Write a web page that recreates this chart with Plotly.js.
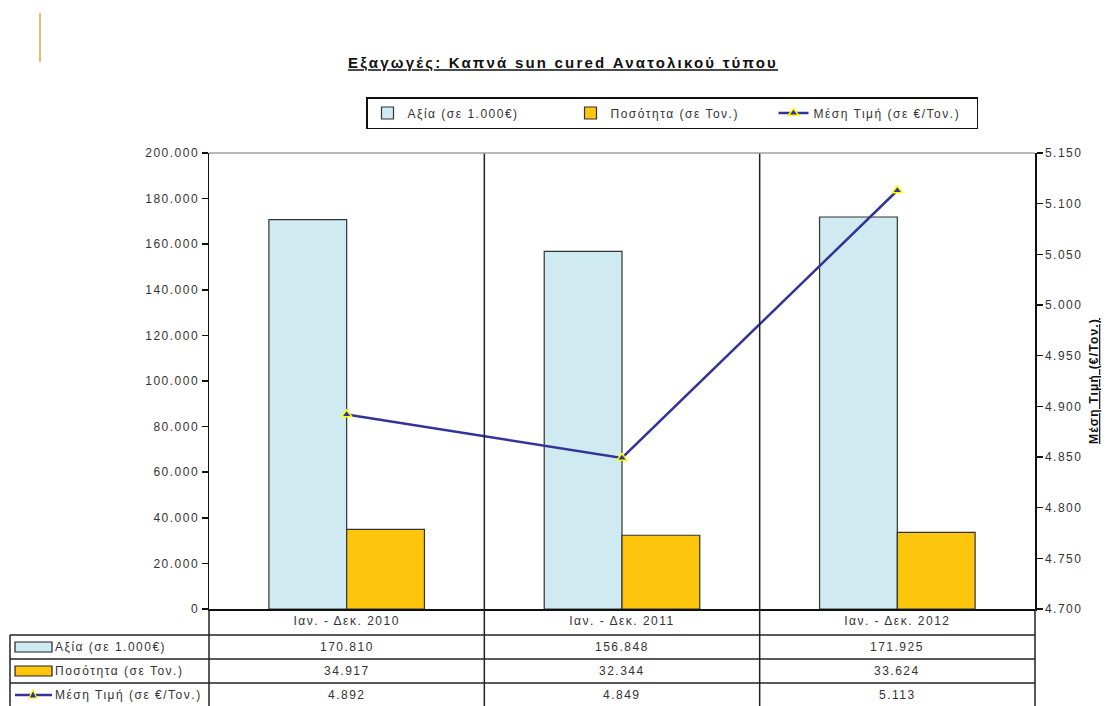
<!DOCTYPE html>
<html>
<head>
<meta charset="utf-8">
<script src="https://cdn.plot.ly/plotly-3.0.1.min.js"></script>
<style>
html,body{margin:0;padding:0;background:#fff;}
#chart{width:1110px;height:706px;}
text{letter-spacing:1.5px;}
#chart .gtitle{letter-spacing:2.2px;}
#chart .y2title{letter-spacing:1.2px;}
</style>
</head>
<body>
<div id="chart"></div>
<script>
// ---- data ----
const categories = ['Ιαν. - Δεκ. 2010', 'Ιαν. - Δεκ. 2011', 'Ιαν. - Δεκ. 2012'];
const valueThousandEur = [170810, 156848, 171925];
const quantityTonnes = [34917, 32344, 33624];
const avgPriceEurPerTonne = [4892, 4849, 5113];
const seriesNames = ['Αξία (σε 1.000€)', 'Ποσότητα (σε Τον.)', 'Μέση Τιμή (σε €/Τον.)'];
const chartTitle = 'Εξαγωγές: Καπνά sun cured Ανατολικού τύπου';
const rightAxisTitle = 'Μέση Τιμή (€/Τον.)';

// ---- layout helpers ----
const W = 1110, H = 706;
const M = {l: 209, r: 75, t: 153, b: 97};
const PW = W - M.l - M.r, PH = H - M.t - M.b;
const px = v => (v - M.l) / PW;
const py = v => (H - M.b - v) / PH;
const fmt = n => String(n).replace(/\B(?=(\d{3})+(?!\d))/g, '.');

const cBlue = '#cfeaf0', cOrange = '#fdc60c', cLine = '#33339a', cYellow = '#ffff00';
const txt = '#333333';
const font = 'Liberation Sans, Arial, sans-serif';

const traces = [
  {type: 'bar', name: seriesNames[0], x: categories, y: valueThousandEur,
   marker: {color: cBlue, line: {color: '#333', width: 1.2}}, hoverinfo: 'skip'},
  {type: 'bar', name: seriesNames[1], x: categories, y: quantityTonnes,
   marker: {color: cOrange, line: {color: '#333', width: 1.2}}, hoverinfo: 'skip'},
  {type: 'scatter', mode: 'lines+markers', name: seriesNames[2], x: categories, y: avgPriceEurPerTonne,
   yaxis: 'y2', line: {color: cLine, width: 2.5},
   marker: {symbol: 'triangle-up', size: 9, color: cLine, line: {color: cYellow, width: 1.5}}, hoverinfo: 'skip'}
];

// ---- table ----
const rowCenters = [647, 671, 695];
const rowSeries = [valueThousandEur, quantityTonnes, avgPriceEurPerTonne];
const annotations = [];
const shapes = [];

rowSeries.forEach((arr, r) => {
  arr.forEach((v, i) => {
    annotations.push({xref: 'x', yref: 'paper', x: i, y: py(rowCenters[r]), text: fmt(v),
      showarrow: false, xanchor: 'center', yanchor: 'middle', font: {family: font, size: 12, color: txt}});
  });
  annotations.push({xref: 'paper', yref: 'paper', x: px(53), y: py(rowCenters[r]), text: seriesNames[r],
    showarrow: false, xanchor: 'left', yanchor: 'middle', font: {family: font, size: 12, color: txt}});
});

// legend keys inside table
shapes.push({type: 'rect', xref: 'paper', yref: 'paper', x0: px(15), x1: px(52), y0: py(642), y1: py(652),
  fillcolor: cBlue, line: {color: '#222', width: 1.2}});
shapes.push({type: 'rect', xref: 'paper', yref: 'paper', x0: px(15), x1: px(52), y0: py(666), y1: py(676),
  fillcolor: cOrange, line: {color: '#222', width: 1.2}});
shapes.push({type: 'line', xref: 'paper', yref: 'paper', x0: px(15), x1: px(52), y0: py(695), y1: py(695),
  line: {color: cLine, width: 2.5}});
shapes.push({type: 'path', xref: 'paper', yref: 'paper',
  path: `M ${px(29)} ${py(698)} L ${px(37)} ${py(698)} L ${px(33)} ${py(690)} Z`,
  fillcolor: cLine, line: {color: cYellow, width: 1.2}});

// table grid
const gridCol = '#222';
[635, 659, 683].forEach(yy => shapes.push({type: 'line', xref: 'paper', yref: 'paper',
  x0: px(10), x1: 1, y0: py(yy), y1: py(yy), line: {color: gridCol, width: 1.5}}));
shapes.push({type: 'line', xref: 'paper', yref: 'paper', x0: px(10), x1: px(10), y0: py(635), y1: py(706),
  line: {color: gridCol, width: 1.5}});
shapes.push({type: 'line', xref: 'paper', yref: 'paper', x0: 0, x1: 0, y0: 0, y1: py(706),
  line: {color: gridCol, width: 1.5}});
shapes.push({type: 'line', xref: 'paper', yref: 'paper', x0: 1, x1: 1, y0: 0, y1: py(706),
  line: {color: gridCol, width: 1.5}});
[1 / 3, 2 / 3].forEach(xx => shapes.push({type: 'line', xref: 'paper', yref: 'paper',
  x0: xx, x1: xx, y0: 1, y1: py(706), line: {color: gridCol, width: 1.5}}));
// top border of plot
shapes.push({type: 'line', xref: 'paper', yref: 'paper', x0: 0, x1: 1, y0: 1, y1: 1,
  line: {color: '#a0a0a0', width: 1.5}});
// decorative gold bar top-left
shapes.push({type: 'line', xref: 'paper', yref: 'paper', x0: px(40), x1: px(40), y0: py(13), y1: py(62),
  line: {color: '#e3a833', width: 1.5}});

const layout = {
  width: W, height: H,
  margin: M,
  paper_bgcolor: '#fff', plot_bgcolor: '#fff',
  separators: ',.',
  font: {family: font, size: 12, color: txt},
  title: {text: '<b><u>' + chartTitle + '</u></b>', x: 563 / W, xanchor: 'center', y: 1 - 63 / H, yanchor: 'middle',
    font: {family: font, size: 15, color: '#111'}},
  barmode: 'group', bargap: 0.435, bargroupgap: 0,
  showlegend: true,
  legend: {orientation: 'h', x: px(672), xanchor: 'center', y: py(97), yanchor: 'top',
    bordercolor: '#111', borderwidth: 1.5, bgcolor: '#fff', entrywidth: 158,
    font: {family: font, size: 12, color: txt}, traceorder: 'normal'},
  xaxis: {type: 'category', showline: true, linecolor: '#111', linewidth: 1.5, ticks: '',
    tickfont: {family: font, size: 12, color: txt}, showgrid: false, zeroline: false, fixedrange: true},
  yaxis: {range: [0, 200000], dtick: 20000, tickformat: ',d', showline: true, linecolor: '#111', linewidth: 1.5,
    ticks: 'outside', ticklen: 6, tickwidth: 1.5, tickcolor: '#111', showgrid: false, zeroline: false,
    tickfont: {family: font, size: 12, color: txt}},
  yaxis2: {overlaying: 'y', side: 'right', range: [4700, 5150], dtick: 50, tickformat: ',d',
    showline: true, linecolor: '#111', linewidth: 1.5, ticks: 'outside', ticklen: 6, tickwidth: 1.5, tickcolor: '#111',
    showgrid: false, zeroline: false, tickfont: {family: font, size: 12, color: txt},
    title: {text: '<b><u>' + rightAxisTitle + '</u></b>', font: {family: font, size: 12, color: '#111'}, standoff: 8}},
  annotations: annotations,
  shapes: shapes
};

Plotly.newPlot('chart', traces, layout, {staticPlot: true, displayModeBar: false});
</script>
</body>
</html>
